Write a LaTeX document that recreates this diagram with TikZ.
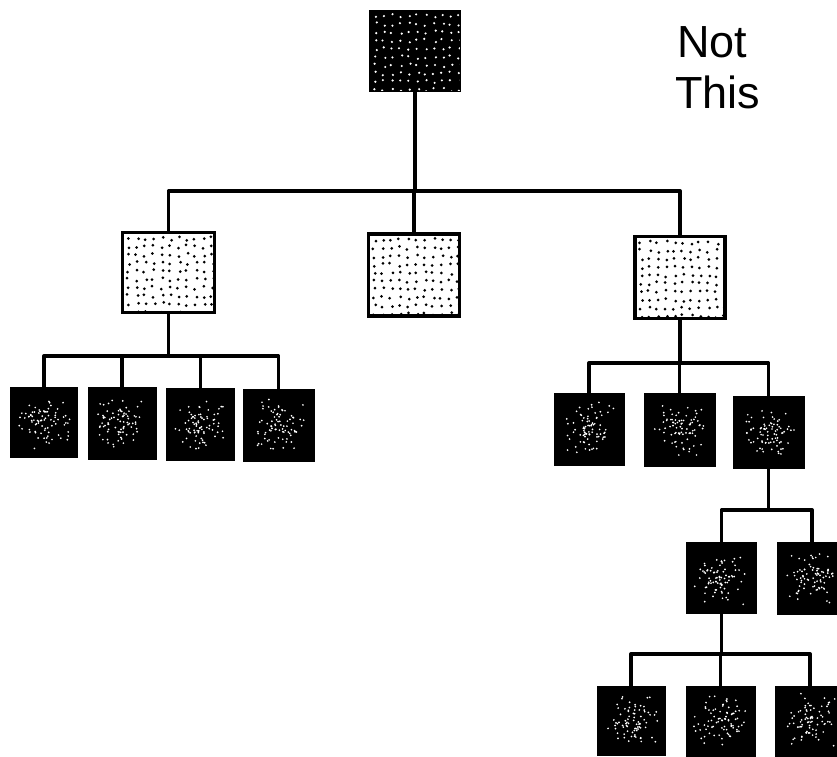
\documentclass[tikz,border=0pt]{standalone}
\usepackage{fontspec}
\newfontfamily\labelfont{Liberation Sans}
\usetikzlibrary{calc}
\newcommand\griddots[2]{%
  \foreach \i in {0,...,10}{\foreach \j in {0,...,9}{%
    \fill[#1] ($(path picture bounding box.north west)+({6pt+\i*8.4pt+rand*1.8pt},{-6pt-\j*8.2pt+rand*1.8pt})$) circle (#2);}}}
\newcommand\speckles{%
  \foreach \k in {1,...,80}{%
    \fill[white] ($(path picture bounding box.center)+({(rand+rand)*14pt},{(rand+rand)*14pt})$) circle (0.95pt);}}
\tikzset{
  conn/.style={line width=3.4pt, line join=round, line cap=round},
  lightbox/.style={draw, line width=3.6pt, fill=white, inner sep=0pt,
    path picture={\griddots{black}{1.5pt}}},
  rootbox/.style={draw, line width=1pt, fill=black, inner sep=0pt,
    path picture={\griddots{white}{1.2pt}}},
  darkbox/.style={draw, line width=1pt, fill=black, inner sep=0pt,
    path picture={\speckles}},
  sz/.style 2 args={minimum width=#1pt, minimum height=#2pt},
  lbl/.style={inner sep=0pt, anchor=base west, font=\labelfont\fontsize{45}{52}\selectfont}
}
\begin{document}
\begin{tikzpicture}[x=1pt,y=-1pt]
\pgfmathsetseed{7}
\useasboundingbox (0,0) rectangle (837,756);
\clip (0,0) rectangle (837,756);
\fill[white] (0,0) rectangle (837,756);

% bus levels
\coordinate (b1) at (0,191);
\coordinate (b2) at (0,356);
\coordinate (b3) at (0,363);
\coordinate (b4) at (0,510);
\coordinate (b5) at (0,654);

% nodes
\node[rootbox, sz={91}{81}] (root) at (415,50.5) {};
\node[lbl] (not) at (677,57) {Not};
\node[lbl] (this) at (675,108) {This};

\node[lightbox, sz={92}{80}] (la) at (168.5,272.5) {};
\node[lightbox, sz={91}{82}] (lb) at (414,275) {};
\node[lightbox, sz={90}{82}] (lc) at (680,277.5) {};

\node[darkbox, sz={67}{70}] (a1) at (44,422) {};
\node[darkbox, sz={68}{72}] (a2) at (122,423) {};
\node[darkbox, sz={68}{72}] (a3) at (200.5,424) {};
\node[darkbox, sz={71}{72}] (a4) at (278.5,425) {};

\node[darkbox, sz={70}{72}] (c1) at (589,429) {};
\node[darkbox, sz={71}{73}] (c2) at (679.5,429.5) {};
\node[darkbox, sz={71}{72}] (c3) at (768.5,432) {};

\node[darkbox, sz={70}{71}] (d1) at (721.5,577.5) {};
\node[darkbox, sz={70}{72}] (d2) at (812,578) {};

\node[darkbox, sz={68}{69}] (e1) at (631,720.5) {};
\node[darkbox, sz={69}{70}] (e2) at (720.5,721) {};
\node[darkbox, sz={70}{70}] (e3) at (810,721) {};

% connectors
\draw[conn] (root.south) -- (root.south |- b1);
\draw[conn] (la.north) |- (lc.north |- b1) -- (lc.north);
\draw[conn] (lb.north) -- (lb.north |- b1);

\draw[conn] (la.south) -- (la.south |- b2);
\draw[conn] (a1.north) |- (a4.north |- b2) -- (a4.north);
\draw[conn] (a2.north) -- (a2.north |- b2);
\draw[conn] (a3.north) -- (a3.north |- b2);

\draw[conn] (lc.south) -- (lc.south |- b3);
\draw[conn] (c1.north) |- (c3.north |- b3) -- (c3.north);
\draw[conn] (c2.north) -- (c2.north |- b3);

\draw[conn] (c3.south) -- (c3.south |- b4);
\draw[conn] (d1.north) |- (d2.north |- b4) -- (d2.north);

\draw[conn] (d1.south) -- (d1.south |- b5);
\draw[conn] (e1.north) |- (e3.north |- b5) -- (e3.north);
\draw[conn] (e2.north) -- (e2.north |- b5);
\end{tikzpicture}
\end{document}
